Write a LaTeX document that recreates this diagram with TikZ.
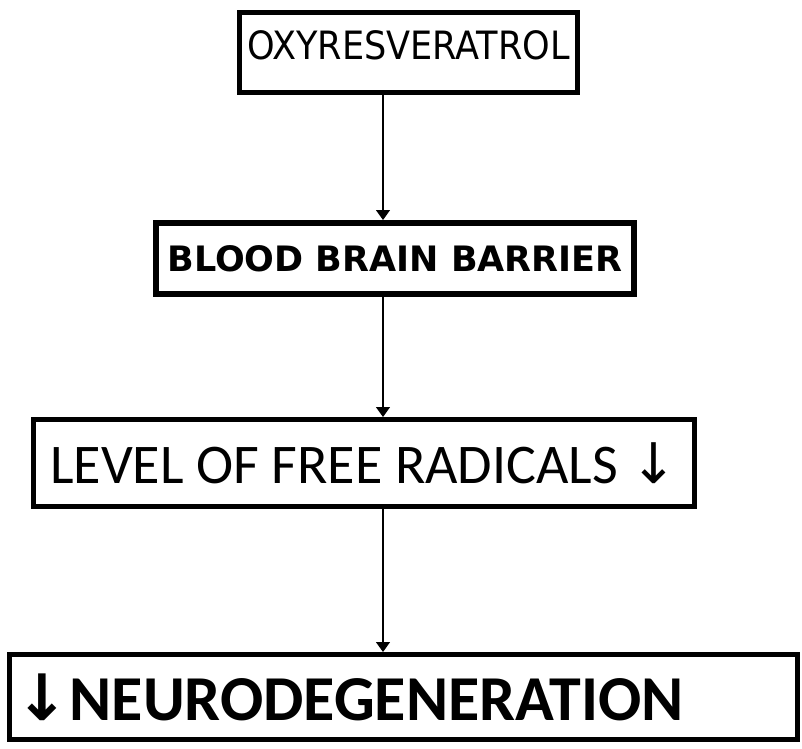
\documentclass[tikz,border=0pt]{standalone}
\usepackage{fontspec}
\setmainfont{DejaVu Sans}
\newfontfamily\calibrifont{Carlito}
\newfontfamily\condfont{DejaVu Sans Condensed}
\newfontfamily\arrowfont{DejaVu Sans}
\usetikzlibrary{arrows.meta, positioning}
\newcommand{\downarr}{{\arrowfont ↓}}
\tikzset{
  flowbox/.style={rectangle, draw=black, fill=white, line width=5pt,
    inner sep=0pt, align=center},
  arrow/.style={-{Triangle[width=14pt,length=10pt]}, line width=1.2pt, color=black}
}

\begin{document}
\begin{tikzpicture}[node distance=120pt]
  \useasboundingbox (0,0) rectangle (802pt,-748pt);
  \coordinate (axis) at (383pt,0);

  \node [flowbox, minimum width=338pt, minimum height=80pt, text depth=14pt,
    font=\fontsize{39}{46}\selectfont\condfont] (oxy) at (408.5pt,-52.5pt) {OXYRESVERATROL};
  \node [flowbox, line width=6pt, minimum width=478pt, minimum height=71pt,
    font=\fontsize{35}{42}\selectfont\bfseries,
    below=125pt of oxy, xshift=-13.5pt] (bbb) {BLOOD BRAIN BARRIER};
  \node [flowbox, minimum width=661pt, minimum height=87pt,
    font=\fontsize{56}{67}\selectfont\calibrifont,
    below=120pt of bbb, xshift=-31pt] (radicals) {LEVEL OF FREE RADICALS \downarr};
  \node [flowbox, minimum width=788pt, minimum height=85pt, text width=775pt, align=left,
    font=\fontsize{64}{76}\selectfont\calibrifont\bfseries,
    below=143pt of radicals, xshift=39.5pt] (neuro) {\downarr NEURODEGENERATION};

  \draw [arrow] (oxy.south -| axis) -- (bbb.north -| axis);
  \draw [arrow] (bbb.south -| axis) -- (radicals.north -| axis);
  \draw [arrow] (radicals.south -| axis) -- (neuro.north -| axis);
\end{tikzpicture}
\end{document}
